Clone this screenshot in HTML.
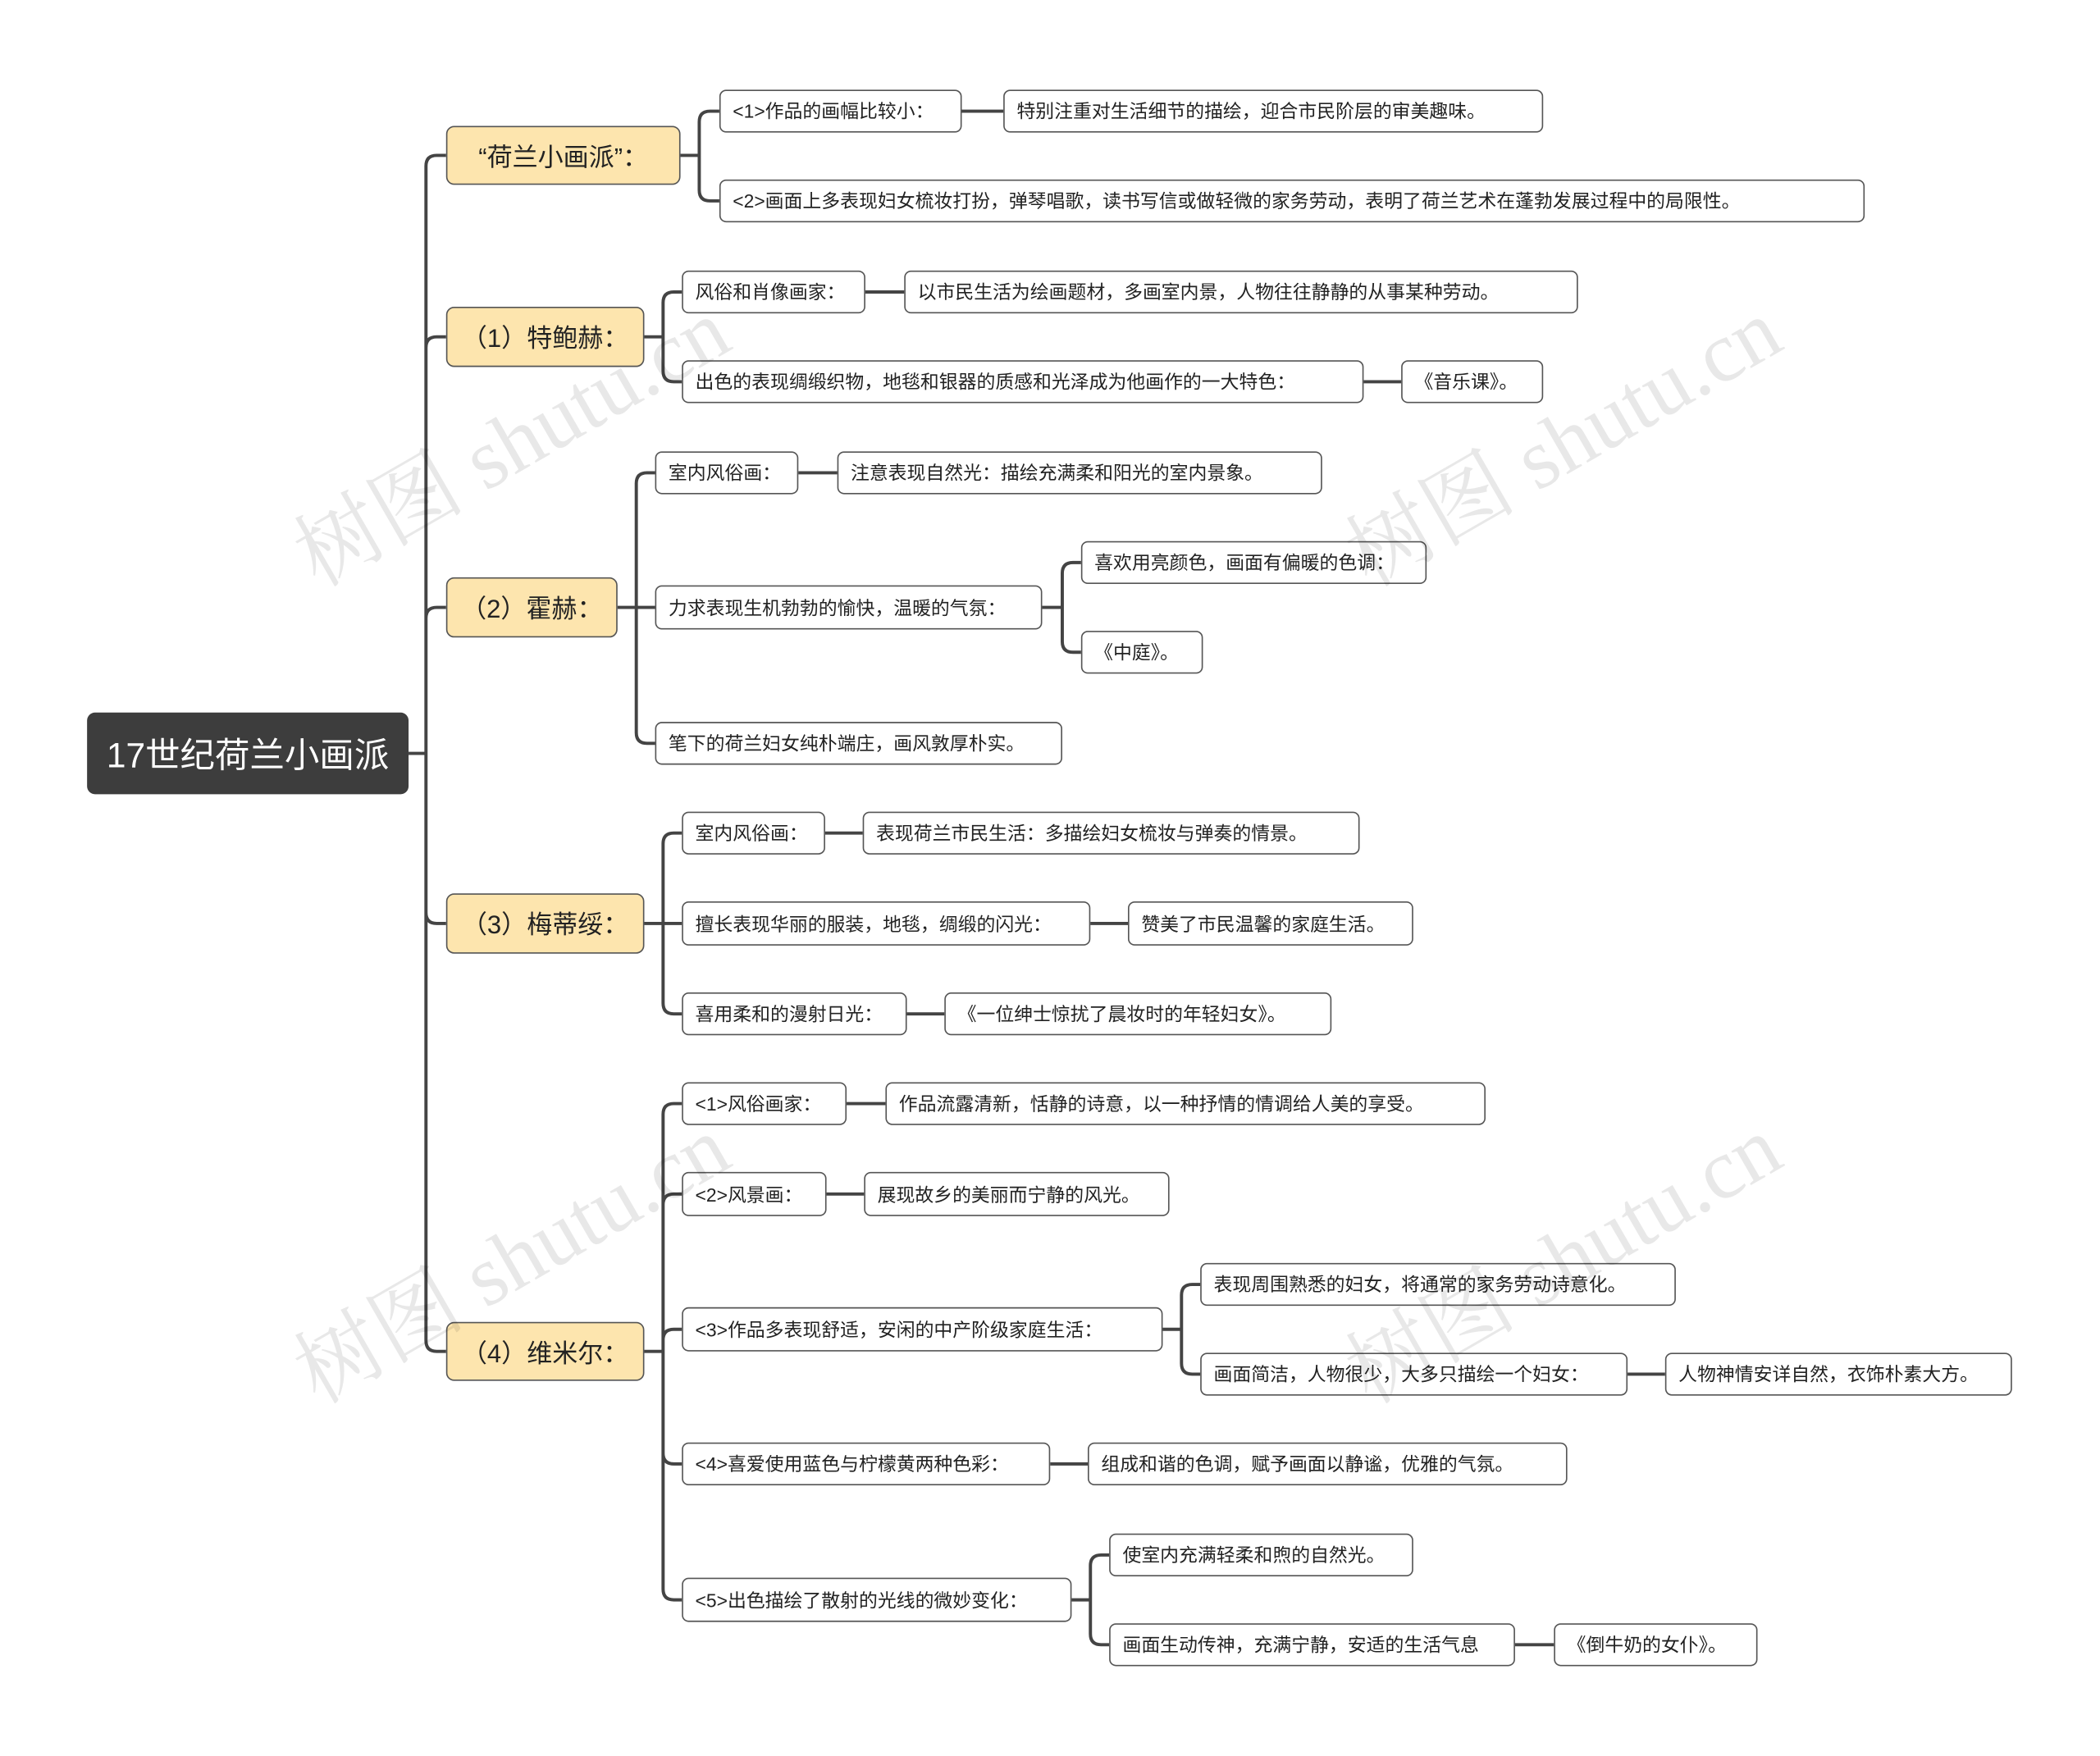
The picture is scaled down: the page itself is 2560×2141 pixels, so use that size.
<!DOCTYPE html>
<html><head><meta charset="utf-8"><style>
html,body{margin:0;padding:0;background:#fff;}
body{width:2560px;height:2141px;overflow:hidden;position:relative;}
#w{position:absolute;left:0;top:0;width:1568px;height:1311px;transform:scale(1.633);transform-origin:0 0;font-family:"Liberation Sans","Noto Sans CJK SC",sans-serif;}
.n{position:absolute;box-sizing:border-box;border:1.3px solid #555;border-radius:5px;background:#fff;color:#222;font-size:14px;white-space:nowrap;display:flex;align-items:center;padding-left:9px;}
.y{background:#fde5ae;font-size:19px;justify-content:center;padding-left:0;border-radius:6px;}
.r{background:#3d3d3d;color:#fff;font-size:26px;justify-content:center;padding:0;border:none;border-radius:6px;}
.wm{position:absolute;font-size:64px;color:rgba(0,0,0,0.09);transform:rotate(-30deg);white-space:nowrap;font-family:"Liberation Serif","Noto Serif CJK SC",serif;}
svg{position:absolute;left:0;top:0;}
</style></head><body><div id="w">
<svg id="s" width="1568" height="1311"></svg>
<div id="nodes"></div>
<div class="wm" style="left:200px;top:280px">树图 shutu.cn</div>
<div class="wm" style="left:985px;top:280px">树图 shutu.cn</div>
<div class="wm" style="left:200px;top:890px">树图 shutu.cn</div>
<div class="wm" style="left:985px;top:890px">树图 shutu.cn</div>
</div>
<script>
var N={
r:[65,305,532,593,'17世纪荷兰小画派','r'],
A:[333,508,94,138,'“荷兰小画派”：','y'],
B:[333,481,229,274,'（1）特鲍赫：','y'],
C:[333,461,431,476,'（2）霍赫：','y'],
D:[333,481,667,712,'（3）梅蒂绥：','y'],
E:[333,481,987,1031,'（4）维米尔：','y'],
A1:[537,718,67,99,'<1>作品的画幅比较小：'],
A1a:[749,1152,67,99,'特别注重对生活细节的描绘，迎合市民阶层的审美趣味。'],
A2:[537,1392,134,166,'<2>画面上多表现妇女梳妆打扮，弹琴唱歌，读书写信或做轻微的家务劳动，表明了荷兰艺术在蓬勃发展过程中的局限性。'],
B1:[509,646,202,234,'风俗和肖像画家：'],
B1a:[675,1178,202,234,'以市民生活为绘画题材，多画室内景，人物往往静静的从事某种劳动。'],
B2:[509,1018,269,301,'出色的表现绸缎织物，地毯和银器的质感和光泽成为他画作的一大特色：'],
B2a:[1046,1152,269,301,'《音乐课》。'],
C1:[489,596,337,369,'室内风俗画：'],
C1a:[625,987,337,369,'注意表现自然光：描绘充满柔和阳光的室内景象。'],
C2:[489,778,437,470,'力求表现生机勃勃的愉快，温暖的气氛：'],
C2a:[807,1065,404,436,'喜欢用亮颜色，画面有偏暖的色调：'],
C2b:[807,898,471,503,'《中庭》。'],
C3:[489,793,539,571,'笔下的荷兰妇女纯朴端庄，画风敦厚朴实。'],
D1:[509,616,606,638,'室内风俗画：'],
D1a:[644,1015,606,638,'表现荷兰市民生活：多描绘妇女梳妆与弹奏的情景。'],
D2:[509,814,673,706,'擅长表现华丽的服装，地毯，绸缎的闪光：'],
D2a:[842,1055,673,706,'赞美了市民温馨的家庭生活。'],
D3:[509,677,741,773,'喜用柔和的漫射日光：'],
D3a:[705,994,741,773,'《一位绅士惊扰了晨妆时的年轻妇女》。'],
E1:[509,632,808,840,'<1>风俗画家：'],
E1a:[661,1109,808,840,'作品流露清新，恬静的诗意，以一种抒情的情调给人美的享受。'],
E2:[509,617,875,908,'<2>风景画：'],
E2a:[645,873,875,908,'展现故乡的美丽而宁静的风光。'],
E3:[509,868,976,1009,'<3>作品多表现舒适，安闲的中产阶级家庭生活：'],
E3a:[896,1251,943,975,'表现周围熟悉的妇女，将通常的家务劳动诗意化。'],
E3b:[896,1215,1010,1042,'画面简洁，人物很少，大多只描绘一个妇女：'],
E3ba:[1243,1502,1010,1042,'人物神情安详自然，衣饰朴素大方。'],
E4:[509,784,1077,1109,'<4>喜爱使用蓝色与柠檬黄两种色彩：'],
E4a:[812,1170,1077,1109,'组成和谐的色调，赋予画面以静谧，优雅的气氛。'],
E5:[509,800,1178,1211,'<5>出色描绘了散射的光线的微妙变化：'],
E5a:[828,1055,1145,1177,'使室内充满轻柔和煦的自然光。'],
E5b:[828,1131,1212,1244,'画面生动传神，充满宁静，安适的生活气息'],
E5ba:[1160,1312,1212,1244,'《倒牛奶的女仆》。']
};
var T=[['r',318,['A','B','C','D','E']],['A',522,['A1','A2']],['A1',0,['A1a']],
['B',495,['B1','B2']],['B1',0,['B1a']],['B2',0,['B2a']],
['C',475,['C1','C2','C3']],['C1',0,['C1a']],['C2',793,['C2a','C2b']],
['D',495,['D1','D2','D3']],['D1',0,['D1a']],['D2',0,['D2a']],['D3',0,['D3a']],
['E',495,['E1','E2','E3','E4','E5']],['E1',0,['E1a']],['E2',0,['E2a']],['E3',882,['E3a','E3b']],['E3b',0,['E3ba']],['E4',0,['E4a']],['E5',814,['E5a','E5b']],['E5b',0,['E5ba']]];
var h='';
for(var k in N){var a=N[k];var t=a[4].replace(/</g,'&lt;').replace(/>/g,'&gt;');
h+='<div class="n '+(a[5]||'')+'" style="left:'+a[0]+'px;top:'+a[2]+'px;width:'+(a[1]-a[0])+'px;height:'+(a[3]-a[2])+'px">'+t+'</div>';}
document.getElementById('nodes').innerHTML=h;
var p='';
function cy(a){return (a[2]+a[3])/2;}
T.forEach(function(e){var P=N[e[0]],px=P[1],py=cy(P);
 e[2].forEach(function(c){var C=N[c],y=cy(C),cx=C[0];
  if(e[2].length==1||Math.abs(y-py)<1){p+='M'+px+' '+py+'L'+cx+' '+y;return;}
  var bx=e[1],r=8,s=y>py?1:-1;
  p+='M'+px+' '+py+'L'+bx+' '+py+'L'+bx+' '+(y-s*r)+'Q'+bx+' '+y+' '+(bx+r)+' '+y+'L'+cx+' '+y;
 });
});
document.getElementById('s').innerHTML='<path d="'+p+'" fill="none" stroke="#444" stroke-width="2.4"/>';
</script>
</body></html>
